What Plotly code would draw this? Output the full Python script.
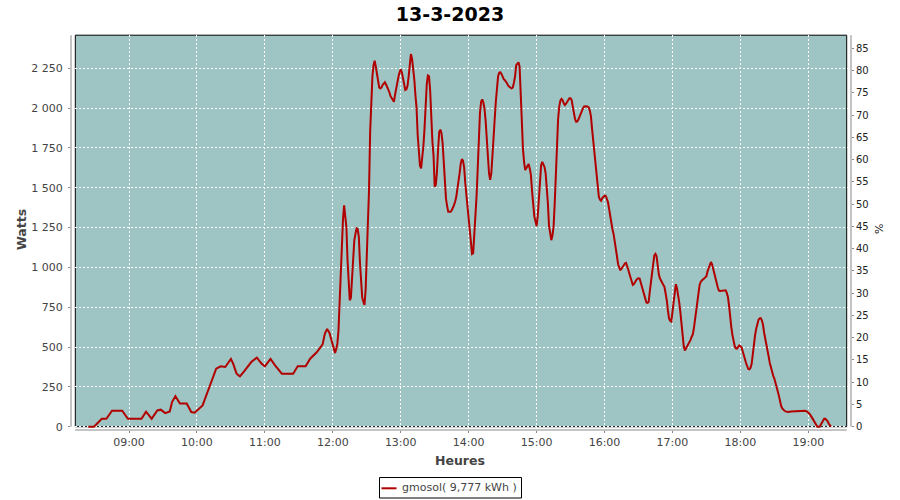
import plotly.graph_objects as go

DAY = "2023-03-13 "

times = [
    "08:24", "08:29", "08:36", "08:40", "08:45", "08:54", "08:59", "09:11", "09:15", "09:20",
    "09:25", "09:28", "09:32", "09:36", "09:38", "09:41", "09:45", "09:51", "09:55", "09:58",
    "10:05", "10:09", "10:13", "10:17", "10:21", "10:25", "10:30", "10:32", "10:35", "10:38",
    "10:42", "10:48", "10:53", "10:57", "11:00", "11:05", "11:09", "11:15", "11:25", "11:29",
    "11:36", "11:40", "11:46", "11:51", "11:53", "11:55", "11:57", "11:59", "12:02", "12:03",
    "12:04", "12:05", "12:06", "12:07", "12:08", "12:09", "12:10", "12:11", "12:12", "12:13",
    "12:14", "12:15", "12:16", "12:17", "12:18", "12:19", "12:20", "12:21", "12:22", "12:23",
    "12:24", "12:25", "12:26", "12:27", "12:28", "12:29", "12:30", "12:31", "12:32", "12:33",
    "12:34", "12:35", "12:36", "12:37", "12:38", "12:39", "12:40", "12:41", "12:42", "12:43",
    "12:44", "12:45", "12:46", "12:47", "12:48", "12:49", "12:50", "12:51", "12:52", "12:53",
    "12:54", "12:55", "12:56", "12:57", "12:58", "12:59", "13:00", "13:01", "13:02", "13:03",
    "13:04", "13:05", "13:06", "13:07", "13:08", "13:09", "13:10", "13:11", "13:12", "13:13",
    "13:14", "13:15", "13:16", "13:17", "13:18", "13:19", "13:20", "13:21", "13:22", "13:23",
    "13:24", "13:25", "13:26", "13:27", "13:28", "13:29", "13:30", "13:31", "13:32", "13:33",
    "13:34", "13:35", "13:36", "13:37", "13:38", "13:39", "13:40", "13:41", "13:42", "13:43",
    "13:44", "13:45", "13:46", "13:47", "13:48", "13:49", "13:50", "13:51", "13:52", "13:53",
    "13:54", "13:55", "13:56", "13:57", "13:58", "13:59", "14:00", "14:01", "14:02", "14:03",
    "14:04", "14:05", "14:06", "14:07", "14:08", "14:09", "14:10", "14:11", "14:12", "14:13",
    "14:14", "14:15", "14:16", "14:17", "14:18", "14:19", "14:20", "14:21", "14:22", "14:23",
    "14:24", "14:25", "14:26", "14:27", "14:28", "14:29", "14:30", "14:31", "14:32", "14:33",
    "14:34", "14:35", "14:36", "14:37", "14:38", "14:39", "14:40", "14:41", "14:42", "14:43",
    "14:44", "14:45", "14:46", "14:47", "14:48", "14:49", "14:50", "14:51", "14:52", "14:53",
    "14:54", "14:55", "14:56", "14:57", "14:58", "14:59", "15:00", "15:01", "15:02", "15:03",
    "15:04", "15:05", "15:06", "15:07", "15:08", "15:09", "15:10", "15:11", "15:12", "15:13",
    "15:14", "15:15", "15:16", "15:17", "15:18", "15:19", "15:20", "15:21", "15:22", "15:23",
    "15:24", "15:25", "15:26", "15:27", "15:28", "15:29", "15:30", "15:31", "15:32", "15:33",
    "15:34", "15:35", "15:36", "15:37", "15:38", "15:39", "15:40", "15:41", "15:42", "15:43",
    "15:44", "15:45", "15:46", "15:47", "15:48", "15:49", "15:50", "15:51", "15:52", "15:53",
    "15:54", "15:55", "15:56", "15:57", "15:58", "15:59", "16:00", "16:01", "16:02", "16:03",
    "16:04", "16:05", "16:06", "16:07", "16:08", "16:09", "16:10", "16:11", "16:12", "16:13",
    "16:14", "16:15", "16:16", "16:17", "16:18", "16:19", "16:20", "16:21", "16:22", "16:23",
    "16:24", "16:25", "16:26", "16:27", "16:28", "16:29", "16:30", "16:31", "16:32", "16:33",
    "16:34", "16:35", "16:36", "16:37", "16:38", "16:39", "16:40", "16:41", "16:42", "16:43",
    "16:44", "16:45", "16:46", "16:47", "16:48", "16:49", "16:50", "16:51", "16:52", "16:53",
    "16:54", "16:55", "16:56", "16:57", "16:58", "16:59", "17:00", "17:01", "17:02", "17:03",
    "17:04", "17:05", "17:06", "17:07", "17:08", "17:09", "17:10", "17:11", "17:12", "17:13",
    "17:14", "17:15", "17:16", "17:17", "17:18", "17:19", "17:20", "17:21", "17:22", "17:23",
    "17:24", "17:25", "17:26", "17:27", "17:28", "17:29", "17:30", "17:31", "17:32", "17:33",
    "17:34", "17:35", "17:36", "17:37", "17:38", "17:39", "17:40", "17:41", "17:42", "17:44",
    "17:46", "17:47", "17:48", "17:49", "17:50", "17:51", "17:52", "17:53", "17:54", "17:55",
    "17:56", "17:57", "17:58", "17:59", "18:00", "18:01", "18:02", "18:03", "18:04", "18:05",
    "18:06", "18:07", "18:08", "18:09", "18:10", "18:11", "18:12", "18:13", "18:14", "18:15",
    "18:16", "18:17", "18:18", "18:19", "18:20", "18:21", "18:22", "18:23", "18:24", "18:25",
    "18:26", "18:27", "18:28", "18:29", "18:30", "18:31", "18:32", "18:33", "18:34", "18:35",
    "18:36", "18:37", "18:38", "18:39", "18:40", "18:42", "18:45", "18:50", "18:55", "18:57",
    "18:59", "19:01", "19:03", "19:04", "19:05", "19:06", "19:07", "19:08", "19:10", "19:11",
    "19:12", "19:13", "19:14", "19:15", "19:16", "19:17", "19:18", "19:19", "19:20",
]

watts = [
    0, 0, 50, 50, 100, 100, 50, 50, 94, 50,
    102, 107, 85, 96, 155, 192, 145, 145, 92, 88,
    134, 207, 291, 364, 379, 375, 425, 396, 333, 316,
    350, 406, 434, 396, 379, 425, 385, 333, 333, 379,
    379, 427, 469, 517, 584, 613, 590, 542, 463, 487,
    520, 600, 800, 1003, 1190, 1300, 1390, 1330, 1255, 1050,
    880, 794, 810, 950, 1090, 1170, 1210, 1245, 1240, 1190,
    1030, 920, 810, 785, 765, 860, 1080, 1200, 1485, 1850,
    2050, 2200, 2270, 2298, 2260, 2210, 2156, 2130, 2124, 2130,
    2145, 2158, 2162, 2150, 2135, 2124, 2100, 2075, 2060, 2045,
    2040, 2085, 2130, 2170, 2197, 2225, 2244, 2225, 2180, 2145,
    2114, 2118, 2140, 2200, 2302, 2340, 2310, 2255, 2180, 2080,
    2000, 1830, 1720, 1640, 1622, 1680, 1760, 1870, 2030, 2150,
    2205, 2200, 2110, 1910, 1790, 1700, 1506, 1520, 1600, 1740,
    1850, 1865, 1842, 1780, 1650, 1520, 1430, 1385, 1349, 1349,
    1349, 1358, 1370, 1390, 1412, 1440, 1490, 1530, 1590, 1650,
    1680, 1670, 1630, 1530, 1460, 1395, 1330, 1250, 1150, 1085,
    1090, 1190, 1285, 1450, 1620, 1840, 1970, 2040, 2055, 2035,
    1995, 1920, 1820, 1680, 1590, 1550, 1590, 1700, 1790, 1930,
    2040, 2134, 2200, 2222, 2225, 2215, 2195, 2182, 2175, 2168,
    2155, 2140, 2132, 2128, 2124, 2130, 2160, 2200, 2270, 2282,
    2288, 2260, 2080, 1900, 1740, 1660, 1611, 1625, 1635, 1649,
    1620, 1580, 1480, 1380, 1320, 1290, 1260, 1320, 1420, 1560,
    1640, 1663, 1650, 1630, 1590, 1500, 1402, 1260, 1200, 1171,
    1200, 1255, 1400, 1600, 1780, 1930, 2010, 2047, 2058, 2050,
    2030, 2019, 2028, 2040, 2055, 2062, 2062, 2050, 2009, 1960,
    1930, 1914, 1916, 1930, 1950, 1970, 1988, 2000, 2010, 2013,
    2012, 2010, 2005, 1985, 1950, 1870, 1800, 1735, 1660, 1580,
    1500, 1443, 1425, 1418, 1435, 1445, 1450, 1450, 1430, 1412,
    1370, 1317, 1280, 1240, 1210, 1170, 1130, 1070, 1020, 995,
    982, 992, 1003, 1015, 1025, 1028, 1010, 985, 960, 930,
    905, 890, 895, 910, 920, 928, 932, 930, 905, 880,
    850, 820, 795, 780, 777, 783, 850, 920, 985, 1020,
    1075, 1085, 1070, 1010, 955, 930, 913, 900, 890, 877,
    840, 794, 730, 680, 665, 660, 720, 780, 840, 895,
    870, 830, 780, 720, 650, 550, 505, 478, 490, 505,
    515, 530, 545, 565, 580, 620, 680, 740, 800, 850,
    890, 910, 920, 925, 930, 935, 945, 975, 995, 1015,
    1034, 1020, 995, 970, 935, 905, 875, 855, 852, 852,
    852, 856, 840, 815, 760, 680, 625, 575, 535, 505,
    492, 490, 500, 510, 505, 498, 475, 455, 425, 400,
    372, 362, 360, 370, 396, 460, 530, 575, 615, 650,
    670, 680, 682, 668, 640, 590, 545, 500, 470, 440,
    400, 370, 345, 320, 302, 280, 255, 222, 195, 160,
    130, 115, 105, 100, 96, 93, 95, 96, 97, 100,
    95, 82, 60, 48, 35, 20, 8, 0, 0, 15,
    30, 42, 50, 50, 45, 35, 20, 8, 0,
]

series_name = "gmosol( 9,777 kWh )"
title_text = "13-3-2023"

hour_ticks = ["09:00", "10:00", "11:00", "12:00", "13:00", "14:00",
              "15:00", "16:00", "17:00", "18:00", "19:00"]
watt_ticks = [0, 250, 500, 750, 1000, 1250, 1500, 1750, 2000, 2250]
watt_labels = ["0", "250", "500", "750", "1 000", "1 250", "1 500",
               "1 750", "2 000", "2 250"]
pct_ticks = [0, 5, 10, 15, 20, 25, 30, 35, 40, 45, 50, 55, 60, 65, 70, 75, 80, 85]

BG = "#9EC4C3"
RED = "#B00000"
AXIS = "#888888"
TXT = "#444444"
FONT = "DejaVu Sans"

fig = go.Figure()
fig.add_trace(go.Scatter(
    x=[DAY + t for t in times], y=watts, mode="lines", name=series_name,
    line=dict(color=RED, width=2), showlegend=False, hoverinfo="x+y",
))
# invisible trace so the secondary (percent) axis is drawn
fig.add_trace(go.Scatter(
    x=[DAY + times[0]], y=[None], yaxis="y2", mode="lines",
    showlegend=False, hoverinfo="skip",
))

# plot-area geometry (pixels): axis lines at x=71, x=851, y=430; top at y=35
L, R, T, B = 71, 851, 35, 430
W_, H_ = R - L, B - T


def px(x):
    return (x - L) / W_


def py(y):
    return (B - y) / H_


fig.update_layout(
    width=900, height=500,
    margin=dict(l=L, r=900 - R, t=T, b=500 - B, pad=0, autoexpand=False),
    paper_bgcolor="white", plot_bgcolor="rgba(0,0,0,0)",
    font=dict(family=FONT, size=11, color=TXT),
    title=dict(text="<b>" + title_text + "</b>", x=0.5, xref="container",
               xanchor="center", y=1 - 14 / 500, yref="container", yanchor="middle",
               font=dict(family=FONT, size=19, color="black")),
    xaxis=dict(
        type="date", range=[DAY + "08:08:46", DAY + "19:37:43"],
        tickvals=[DAY + h for h in hour_ticks], ticktext=hour_ticks,
        showgrid=True, gridcolor="white", griddash="2px,2px", gridwidth=1,
        showline=False, zeroline=False, automargin=False,
        ticks="outside", ticklen=2, tickcolor=AXIS,
        tickfont=dict(family=FONT, size=11, color=TXT),
    ),
    yaxis=dict(
        range=[-20.7, 2459.2], tickvals=watt_ticks, ticktext=watt_labels,
        showgrid=True, gridcolor="white", griddash="2px,2px", gridwidth=1,
        showline=False, zeroline=False, automargin=False,
        ticks="outside", ticklen=2, tickcolor=AXIS,
        tickfont=dict(family=FONT, size=11, color=TXT),
        ticklabelstandoff=3,
    ),
    yaxis2=dict(
        overlaying="y", side="right", range=[-0.741, 87.99], tickvals=pct_ticks,
        showgrid=False, showline=False, zeroline=False, automargin=False,
        ticks="outside", ticklen=2, tickcolor=AXIS,
        tickfont=dict(family=FONT, size=10, color="#222222"),
    ),
    hovermode=False,
)

shapes = [
    # plot background
    dict(type="rect", xref="paper", yref="paper", x0=px(75.3), x1=px(846.7),
         y0=py(426.7), y1=py(35.2), fillcolor=BG, line=dict(width=0), layer="below"),
    # plot border
    dict(type="rect", xref="paper", yref="paper", x0=px(75.3), x1=px(846.7),
         y0=py(426.7), y1=py(35.2), fillcolor="rgba(0,0,0,0)",
         line=dict(color="black", width=1), layer="between"),
    # offset axis lines
    dict(type="line", xref="paper", yref="paper", x0=0, x1=0, y0=py(426.7), y1=py(35.2),
         line=dict(color=AXIS, width=1)),
    dict(type="line", xref="paper", yref="paper", x0=1, x1=1, y0=py(426.7), y1=py(35.2),
         line=dict(color=AXIS, width=1)),
    dict(type="line", xref="paper", yref="paper", x0=px(75.3), x1=px(846.7), y0=0, y1=0,
         line=dict(color=AXIS, width=1)),
    # legend box and sample line
    dict(type="rect", xref="paper", yref="paper", x0=px(379.5), x1=px(521.5),
         y0=py(498), y1=py(477.5), fillcolor="white", line=dict(color="black", width=1)),
    dict(type="line", xref="paper", yref="paper", x0=px(381.5), x1=px(396.5),
         y0=py(488.3), y1=py(488.3), line=dict(color=RED, width=2)),
]
fig.update_layout(shapes=shapes)

annotations = [
    dict(text="<b>Watts</b>", xref="paper", yref="paper", x=px(21), y=py(230),
         textangle=-90, showarrow=False, xanchor="center", yanchor="middle",
         font=dict(family=FONT, size=12.5, color=TXT)),
    dict(text="<b>Heures</b>", xref="paper", yref="paper", x=px(459.5), y=py(460),
         showarrow=False, xanchor="center", yanchor="middle",
         font=dict(family=FONT, size=12.5, color=TXT)),
    dict(text="%", xref="paper", yref="paper", x=px(880), y=py(229),
         textangle=-90, showarrow=False, xanchor="center", yanchor="middle",
         font=dict(family=FONT, size=11, color="#222222")),
    dict(text=series_name, xref="paper", yref="paper", x=px(400), y=py(488),
         showarrow=False, xanchor="left", yanchor="middle",
         font=dict(family=FONT, size=11, color=TXT)),
]
fig.update_layout(annotations=annotations)

fig.write_html(
    "out.html",
    config={"displayModeBar": False, "staticPlot": True},
    post_script="document.body.style.margin='0';document.body.style.overflow='hidden';",
)
